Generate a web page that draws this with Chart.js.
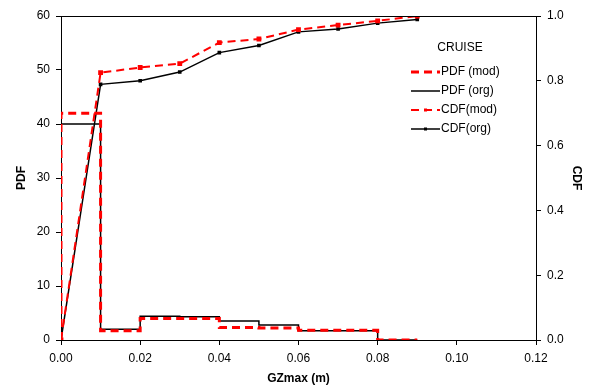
<!DOCTYPE html>
<html lang="en">
<head>
  <meta charset="utf-8">
  <title>GZmax PDF / CDF</title>
  <script src="https://cdn.jsdelivr.net/npm/chart.js@4.4.1/dist/chart.umd.min.js"></script>
  <style>
    html, body { margin: 0; padding: 0; background: #fff; }
    #wrap { width: 590px; height: 390px; position: relative; }
  </style>
</head>
<body>
  <div id="wrap"><canvas id="gzChart" width="590" height="390"></canvas></div>
  <script>
    // PDF step points (x = bin start, value held until next x)
    const pdfX = [0, 0, 0.01, 0.02, 0.03, 0.04, 0.05, 0.06, 0.07, 0.08, 0.09];
    const pdfMod = [0, 42, 1.7, 4.0, 4.0, 2.3, 2.2, 1.8, 1.8, 0, 0];
    const pdfOrg = [0, 40, 2.0, 4.4, 4.3, 3.5, 2.8, 1.7, 1.7, 0, 0];

    // CDF points
    const cdfX = [0, 0.01, 0.02, 0.03, 0.04, 0.05, 0.06, 0.07, 0.08, 0.09];
    const cdfMod = [0, 0.825, 0.841, 0.853, 0.918, 0.929, 0.958, 0.972, 0.985, 1.0];
    const cdfOrg = [0, 0.789, 0.800, 0.827, 0.887, 0.909, 0.951, 0.960, 0.978, 0.989];

    const legendTitle = 'CRUISE';
    const font = 'Arial, "Liberation Sans", sans-serif';

    function pts(xs, ys) {
      return xs.map((x, i) => ({ x: x, y: ys[i] }));
    }

    // Frame round the plot area plus the in-plot legend
    const framePlugin = {
      id: 'frame',
      afterDraw(chart) {
        const { ctx, chartArea: a } = chart;
        ctx.save();
        ctx.strokeStyle = '#000';
        ctx.lineWidth = 1;
        ctx.beginPath();
        ctx.moveTo(a.left, a.top + 0.5);
        ctx.lineTo(a.right, a.top + 0.5);
        ctx.stroke();

        // legend
        ctx.font = '12px ' + font;
        ctx.fillStyle = '#000';
        ctx.textBaseline = 'middle';
        ctx.textAlign = 'center';
        ctx.fillText(legendTitle, 460, 48);
        ctx.textAlign = 'left';
        chart.data.datasets.forEach((ds, i) => {
          const y = 72 + i * 19;
          ctx.save();
          ctx.strokeStyle = ds.borderColor;
          ctx.lineWidth = ds.borderWidth;
          ctx.setLineDash(ds.borderDash || []);
          ctx.beginPath();
          ctx.moveTo(411, y);
          ctx.lineTo(440, y);
          ctx.stroke();
          if (ds.pointRadius) {
            ctx.fillStyle = ds.borderColor;
            ctx.fillRect(424, y - 1.5, 3, 3);
          }
          ctx.restore();
          ctx.fillText(ds.label, 441, y);
        });
        ctx.restore();
      }
    };

    const ctx = document.getElementById('gzChart').getContext('2d');
    new Chart(ctx, {
      type: 'line',
      data: {
        datasets: [
          {
            label: 'PDF (mod)',
            data: pts(pdfX, pdfMod),
            yAxisID: 'y',
            stepped: 'before',
            borderColor: '#ff0000',
            borderWidth: 3,
            borderDash: [8, 5],
            pointRadius: 0,
            fill: false
          },
          {
            label: 'PDF (org)',
            data: pts(pdfX, pdfOrg),
            yAxisID: 'y',
            stepped: 'before',
            borderColor: '#000000',
            borderWidth: 1.5,
            pointRadius: 0,
            fill: false
          },
          {
            label: 'CDF(mod)',
            data: pts(cdfX, cdfMod),
            yAxisID: 'y1',
            borderColor: '#ff0000',
            backgroundColor: '#ff0000',
            borderWidth: 2,
            borderDash: [8, 5],
            pointStyle: 'rect',
            pointRadius: 2,
            tension: 0,
            fill: false
          },
          {
            label: 'CDF(org)',
            data: pts(cdfX, cdfOrg),
            yAxisID: 'y1',
            borderColor: '#000000',
            backgroundColor: '#000000',
            borderWidth: 1.5,
            pointStyle: 'rect',
            pointRadius: 1.5,
            tension: 0,
            fill: false
          }
        ]
      },
      options: {
        responsive: false,
        animation: false,
        layout: { padding: { top: 16, left: 0, right: 0, bottom: 0 } },
        plugins: {
          legend: { display: false },
          tooltip: { enabled: false }
        },
        scales: {
          x: {
            type: 'linear',
            min: 0,
            max: 0.12,
            ticks: {
              stepSize: 0.02,
              color: '#000',
              font: { family: font, size: 12 },
              padding: 6,
              callback: v => v.toFixed(2)
            },
            grid: { drawOnChartArea: false, drawTicks: true, tickLength: 5, color: '#000' },
            border: { color: '#000', width: 1 },
            title: {
              display: true,
              text: 'GZmax (m)',
              color: '#000',
              font: { family: font, size: 12, weight: 'bold' },
              padding: { top: 10 }
            },
            afterFit(s) { s.height = 50; }
          },
          y: {
            position: 'left',
            min: 0,
            max: 60,
            ticks: {
              stepSize: 10,
              color: '#000',
              font: { family: font, size: 12 },
              padding: 6
            },
            grid: { drawOnChartArea: false, drawTicks: true, tickLength: 5, color: '#000' },
            border: { color: '#000', width: 1 },
            title: {
              display: true,
              text: 'PDF',
              color: '#000',
              font: { family: font, size: 12, weight: 'bold' },
              padding: { top: 14, bottom: 6 }
            },
            afterFit(s) { s.width = 61; }
          },
          y1: {
            position: 'right',
            min: 0,
            max: 1,
            ticks: {
              stepSize: 0.2,
              color: '#000',
              font: { family: font, size: 12 },
              padding: 6,
              callback: v => v.toFixed(1)
            },
            grid: { drawOnChartArea: false, drawTicks: true, tickLength: 5, color: '#000' },
            border: { color: '#000', width: 1 },
            title: {
              display: true,
              text: 'CDF',
              color: '#000',
              font: { family: font, size: 12, weight: 'bold' },
              padding: { top: 6 }
            },
            afterFit(s) { s.width = 54; }
          }
        }
      },
      plugins: [framePlugin]
    });
  </script>
</body>
</html>
